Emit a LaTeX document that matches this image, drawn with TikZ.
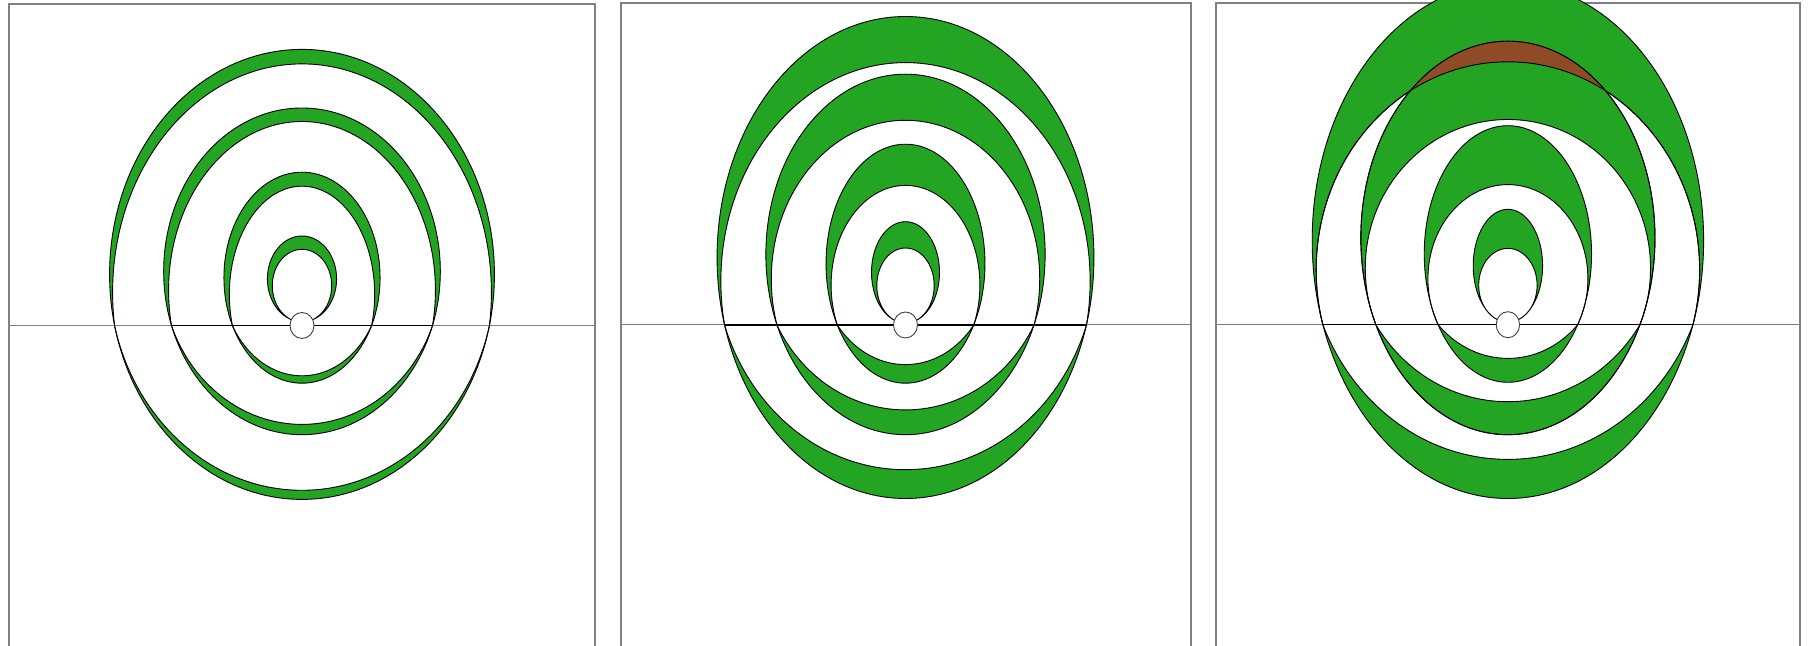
\documentclass[tikz,border=0pt]{standalone}
\definecolor{leaf}{RGB}{35,165,35}
\definecolor{bark}{RGB}{143,74,38}
\definecolor{framegray}{RGB}{128,128,128}
\tikzset{
  framebox/.style={draw=framegray, line width=0.8pt},
  horizon/.style={draw=framegray, line width=0.5pt},
  horizonblack/.style={draw=black, line width=0.65pt},
  ringfill/.style={fill=leaf, even odd rule},
  ringline/.style={draw=black, line width=0.45pt},
  source/.style={draw=black!75, fill=white, line width=0.45pt},
}
% outer ellipse through (cx+-w, h) with top TO and bottom BO;
% inner curve: upper arc (top TI) and lower arc (bottom BI), both through (cx+-w, h)
\newcommand{\wvparams}[7]{%
  \pgfmathsetmacro\wvOC{((#4)+(#5))/2}%
  \pgfmathsetmacro\wvOB{((#5)-(#4))/2}%
  \pgfmathsetmacro\wvOA{#3/sqrt(1-((#2-\wvOC)/\wvOB)^2)}%
  \pgfmathsetmacro\wvUC{\wvOC+0.35*(#2-\wvOC)}%
  \pgfmathsetmacro\wvUB{\wvUC-(#6)}%
  \pgfmathsetmacro\wvUA{#3/sqrt(1-((#2-\wvUC)/\wvUB)^2)}%
  \pgfmathsetmacro\wvLC{\wvOC}%
  \pgfmathsetmacro\wvLB{(#7)-\wvOC}%
  \pgfmathsetmacro\wvLA{#3/sqrt(1-((#2-\wvLC)/\wvLB)^2)}%
}
\newcommand{\wvring}[7]{%
  \wvparams{#1}{#2}{#3}{#4}{#5}{#6}{#7}%
  \begin{scope}
    \clip (#1-400,-200) rectangle (#1+400,#2);
    \fill[ringfill] (#1,\wvOC) ellipse [x radius=\wvOA, y radius=\wvOB]
        (#1,\wvUC) ellipse [x radius=\wvUA, y radius=\wvUB];
    \draw[ringline] (#1,\wvUC) ellipse [x radius=\wvUA, y radius=\wvUB];
  \end{scope}
  \begin{scope}
    \clip (#1-400,#2) rectangle (#1+400,900);
    \fill[ringfill] (#1,\wvOC) ellipse [x radius=\wvOA, y radius=\wvOB]
        (#1,\wvLC) ellipse [x radius=\wvLA, y radius=\wvLB];
    \draw[ringline] (#1,\wvLC) ellipse [x radius=\wvLA, y radius=\wvLB];
  \end{scope}
  \draw[ringline] (#1,\wvOC) ellipse [x radius=\wvOA, y radius=\wvOB];
}
% ellipse with top T, half width a, through (cx+-d, yP)
\newcommand{\wvcalcTP}[4]{%
  \pgfmathsetmacro\wvA{#2}%
  \pgfmathsetmacro\wvB{(#4-#1)/(1+sqrt(1-(#3/#2)^2))}%
  \pgfmathsetmacro\wvC{#1+\wvB}%
}
\newcommand{\wvcore}[7]{% cx, TO, aO, TI, aI, d, yP
  \wvcalcTP{#2}{#3}{#6}{#7}\let\wvKC\wvC\let\wvKA\wvA\let\wvKB\wvB
  \wvcalcTP{#4}{#5}{#6}{#7}%
  \path[ringfill, ringline] (#1,\wvKC) ellipse [x radius=\wvKA, y radius=\wvKB]
        (#1,\wvC) ellipse [x radius=\wvA, y radius=\wvB];
}
\begin{document}
\begin{tikzpicture}[x=0.5pt, y=-0.5pt]
\useasboundingbox (0,0) rectangle (1811,646);
\fill[white] (0,0) rectangle (1811,646);
\clip (0,0) rectangle (1811,646);

% ---------------- panel 1 ----------------
\draw[framebox] (8.7,700) -- (8.7,4) -- (595,4) -- (595,700);
\draw[horizon] (8.7,325.5) -- (595,325.5);
\wvring{302}{325.5}{187.4}{49.4}{499.4}{63.9}{490.3}
\wvring{302}{325.5}{130.5}{108}{434.7}{121.5}{424.4}
\wvring{302}{325.5}{69.6}{172.2}{383.2}{186.2}{375.8}
\wvcore{302}{236}{34.6}{249.3}{29.7}{11.5}{319.3}
\draw[horizonblack] (171.5,325.5) -- (432.5,325.5);
\path[source] (302,325.5) ellipse [x radius=12, y radius=13];

% ---------------- panel 2 ----------------
\draw[framebox] (621,700) -- (621,3.3) -- (1191,3.3) -- (1191,700);
\draw[horizon] (621,325) -- (1191,325);
\wvring{905.5}{325}{180.9}{16.5}{498.5}{62.6}{469.7}
\wvring{905.5}{325}{128.5}{74.2}{434.7}{120.3}{409.9}
\wvring{905.5}{325}{68.2}{144.2}{383.2}{185.4}{364.6}
\wvcore{905.5}{221.7}{34}{248}{28.7}{11.5}{320}
\draw[horizonblack] (724.6,325) -- (1086.4,325);
\path[source] (905.5,325) ellipse [x radius=12, y radius=13];

% ---------------- panel 3 ----------------
\draw[framebox] (1216,700) -- (1216,3.3) -- (1800,3.3) -- (1800,700);
\draw[horizon] (1216,324.7) -- (1800,324.7);
\wvring{1507.9}{324.7}{185}{-17.5}{498.5}{61.8}{459.4}
\wvring{1507.9}{324.7}{132}{41.2}{434.7}{119.5}{401.7}
% overlap of the two outer bands
\wvparams{1507.9}{324.7}{132}{41.2}{434.7}{119.5}{401.7}%
\let\wvPC\wvOC\let\wvPA\wvOA\let\wvPB\wvOB
\wvparams{1507.9}{324.7}{185}{-17.5}{498.5}{61.8}{459.4}%
\begin{scope}
  \clip (1507.9,\wvPC) ellipse [x radius=\wvPA, y radius=\wvPB];
  \clip (1100,-200) rectangle (1900,324.7);
  \fill[bark, even odd rule] (1507.9,\wvOC) ellipse [x radius=\wvOA, y radius=\wvOB]
       (1507.9,\wvUC) ellipse [x radius=\wvUA, y radius=\wvUB];
\end{scope}
\draw[ringline] (1507.9,\wvPC) ellipse [x radius=\wvPA, y radius=\wvPB];
\begin{scope}
  \clip (1100,-200) rectangle (1900,324.7);
  \draw[ringline] (1507.9,\wvUC) ellipse [x radius=\wvUA, y radius=\wvUB];
\end{scope}
\wvring{1507.9}{324.7}{69.8}{125.7}{382.3}{184.6}{358.4}
\wvcore{1507.9}{209.3}{34.7}{248.4}{29.2}{11.7}{319}
\draw[horizonblack] (1322.9,324.7) -- (1692.9,324.7);
\path[source] (1507.9,324.7) ellipse [x radius=11.7, y radius=13];
\end{tikzpicture}
\end{document}
